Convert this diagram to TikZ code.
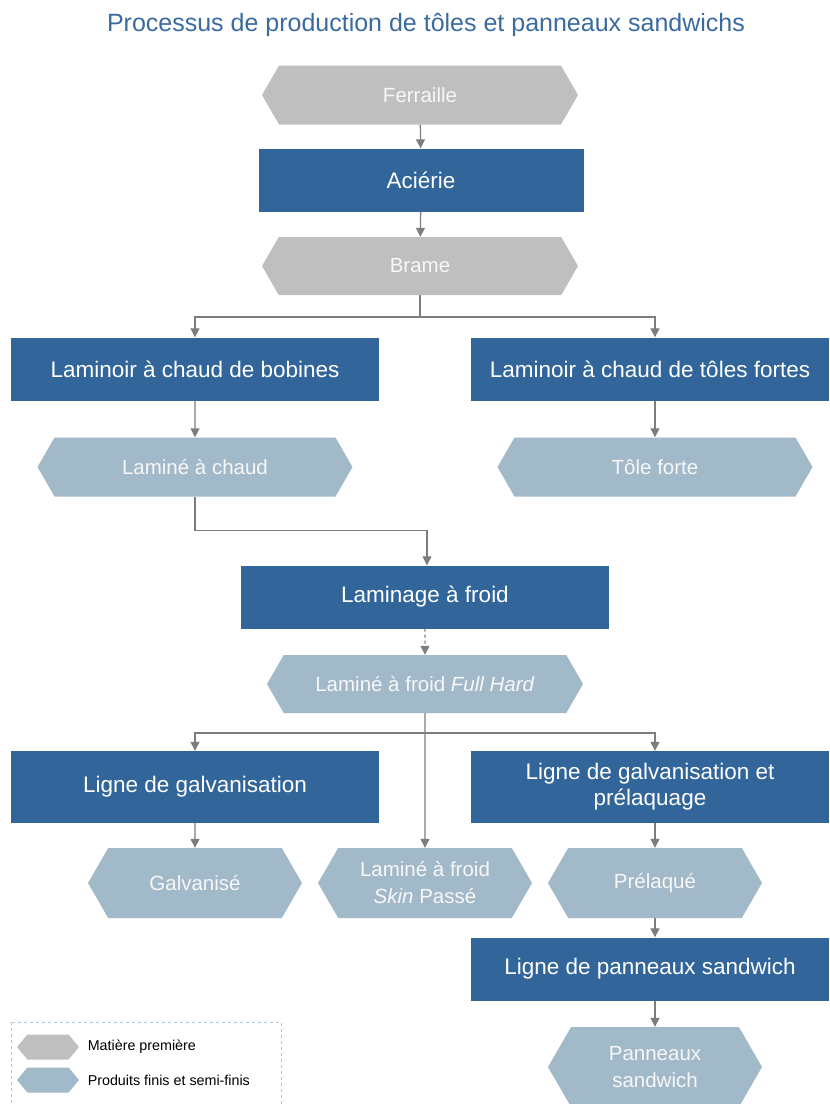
\documentclass[tikz,border=0pt]{standalone}
\usepackage{fontspec}
\setmainfont{Liberation Sans}
\usetikzlibrary{arrows.meta,shapes.symbols}
\definecolor{titleblue}{RGB}{58,106,160}
\definecolor{procblue}{RGB}{50,102,154}
\definecolor{rawgrey}{RGB}{191,191,191}
\definecolor{prodblue}{RGB}{162,185,201}
\definecolor{flowgrey}{RGB}{125,125,125}
\definecolor{legendline}{RGB}{170,200,220}

\begin{document}
\begin{tikzpicture}[x=1pt, y={(0pt,-1pt)},
  >={Triangle[width=9pt,length=9pt]},
  proc/.style={fill=procblue, text=white, align=center, inner sep=2pt,
               font=\fontsize{22.5}{26}\selectfont},
  hexa/.style={shape=signal, signal to=west and east, signal pointer angle=120,
               inner sep=2pt, align=center, text=white!97!black,
               font=\fontsize{20.5}{27}\selectfont},
  raw/.style={hexa, fill=rawgrey},
  prod/.style={hexa, fill=prodblue},
  fl/.style={->, draw=flowgrey, line width=1.3pt}]
\useasboundingbox (0,0) rectangle (830,1104);
\node[text=titleblue, font=\fontsize{25}{30}\selectfont] (title) at (426,25)
  {Processus de production de tôles et panneaux sandwichs};
% acier
\node[raw, minimum width=316, minimum height=59] (fer) at (420,95) {Ferraille};
\node[proc, minimum width=325, minimum height=63] (aci) at (421,180) {Aciérie};
\node[raw, minimum width=316, minimum height=58] (bra) at (420,266) {Brame};
% laminage a chaud
\node[proc, minimum width=368, minimum height=63] (lcb) at (195,369) {Laminoir à chaud de bobines};
\node[proc, minimum width=358, minimum height=63] (lctf) at (650,369) {Laminoir à chaud de tôles fortes};
\node[prod, minimum width=315, minimum height=59] (lac) at (195,467) {Laminé à chaud};
\node[prod, minimum width=315, minimum height=59] (tf) at (655,467) {Tôle forte};
% laminage a froid
\node[proc, minimum width=368, minimum height=63] (laf) at (425,597) {Laminage à froid};
\node[prod, minimum width=316, minimum height=58] (fh) at (425,684) {Laminé à froid \textit{Full Hard}};
% lignes
\node[proc, minimum width=368, minimum height=72] (lg) at (195,787) {Ligne de galvanisation};
\node[proc, minimum width=358, minimum height=72] (lgp) at (650,787) {Ligne de galvanisation et\\prélaquage};
\node[prod, minimum width=214, minimum height=70] (gal) at (195,883) {Galvanisé};
\node[prod, minimum width=214, minimum height=70] (skp) at (425,883) {Laminé à froid\\\textit{Skin} Passé};
\node[prod, minimum width=214, minimum height=70] (pre) at (655,883) {Prélaqué};
\node[proc, minimum width=358, minimum height=63] (lps) at (650,969) {Ligne de panneaux sandwich};
\node[prod, minimum width=214, minimum height=80] (pan) at (655,1067) {Panneaux\\sandwich};
% fleches
\coordinate (s1) at (bra.south |- 0,317);
\coordinate (s2) at (fh.south |- 0,733);
\draw[fl] (fer) -- (aci);
\draw[fl] (aci) -- (bra);
\draw[draw=flowgrey, line width=1.3pt] (bra.south) -- (s1);
\draw[fl] (s1) -| (lcb.north);
\draw[fl] (s1) -| (tf.north |- lctf.north);
\draw[fl] (lcb) -- (lac);
\draw[fl] (lctf.south -| tf.north) -- (tf.north);
\draw[fl] (lac.south) -- ++(0,34) -| ([xshift=2pt]laf.north);
\draw[fl, dashed] (laf) -- (fh);
\draw[fl] (fh) -- (skp);
\draw[fl] (s2) -| (lg.north);
\draw[fl] (s2) -| (pre.north |- lgp.north);
\draw[fl] (lg) -- (gal);
\draw[fl] (lgp.south -| pre.north) -- (pre.north);
\draw[fl] (pre.south) -- (pre.south |- lps.north);
\draw[fl] (lps.south -| pan.north) -- (pan.north);
% legende
\draw[legendline, dashed, line width=0.6pt] (11,1022) rectangle (281,1120);
\node[raw, signal pointer angle=100, minimum width=62, minimum height=25, inner sep=0pt] (lraw) at (48,1047) {};
\node[prod, signal pointer angle=100, minimum width=62, minimum height=25, inner sep=0pt] (lprod) at (48,1080) {};
\node[anchor=west, font=\fontsize{14.3}{17}\selectfont] (traw) at ([xshift=5pt]lraw.east) {Matière première};
\node[anchor=west, font=\fontsize{14.3}{17}\selectfont] (tprod) at ([xshift=5pt]lprod.east) {Produits finis et semi-finis};
\end{tikzpicture}
\end{document}
